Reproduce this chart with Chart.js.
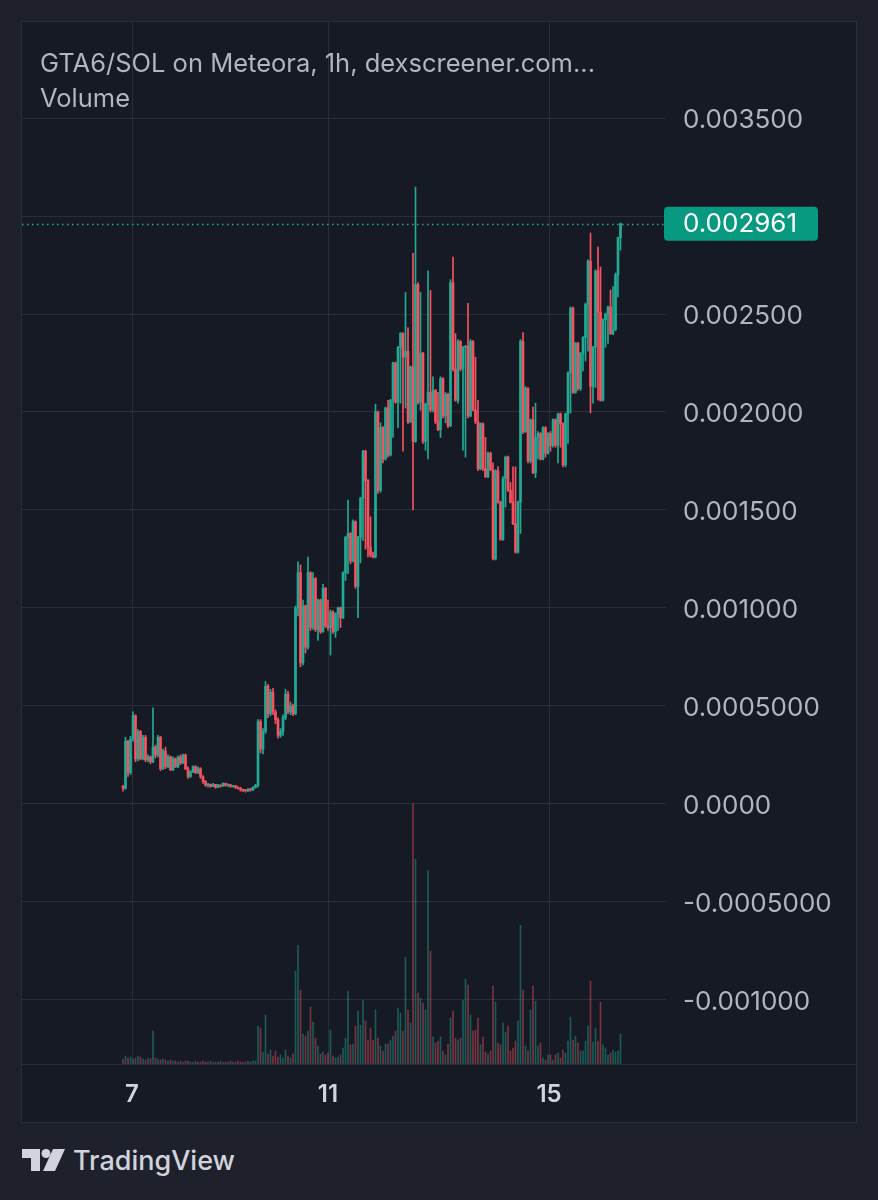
<!DOCTYPE html>
<html>
<head>
<meta charset="utf-8">
<script src="https://cdn.jsdelivr.net/npm/chart.js@4.4.1/dist/chart.umd.min.js"></script>
<style>
  html, body { margin: 0; padding: 0; background: #1e212b; }
  body { width: 878px; height: 1200px; position: relative; overflow: hidden; font-family: Inter, 'Noto Sans', sans-serif; }
  #panel { position: absolute; left: 21px; top: 21px; width: 836px; height: 1102px; box-sizing: border-box; border: 1px solid #2a2e39; background: #161a25; }
  #chart { position: absolute; left: 0; top: 0; }
  .legend { position: absolute; left: 18px; color: #b2b5be; font-size: 25.5px; line-height: 28px; white-space: nowrap; }
  #footer { position: absolute; left: 22px; top: 1146px; height: 28px; display: flex; align-items: center; color: #d1d4dc; font-size: 27px; font-weight: 500; }
  #footer svg { margin-right: 8px; }
</style>
</head>
<body>
<div id="panel">
  <canvas id="chart" width="834" height="1100"></canvas>
  <div class="legend" style="top:27px">GTA6/SOL on Meteora, 1h, dexscreener.com...</div>
  <div class="legend" style="top:62px">Volume</div>
</div>
<div id="footer">
  <svg width="43" height="22" viewBox="0 0 43 22"><path d="M0 0h18v22h-9v-13h-9z" fill="#d1d4dc"/><circle cx="24" cy="4.5" r="4.5" fill="#d1d4dc"/><path d="M31 0h12l-10 22h-12z" fill="#d1d4dc"/></svg>
  <span>TradingView</span>
</div>
<script>
// prices are in millionths of SOL, one candle per hour (open = previous close)
const firstOpen = 90;
const close = [
  80, 320, 160, 330, 450, 230, 370, 230, 340, 225,
  240, 215, 290, 250, 340, 180, 270, 190, 240, 175,
  230, 190, 240, 210, 250, 180, 140, 165, 190, 160,
  180, 140, 115, 95, 100, 90, 100, 85, 95, 92,
  105, 95, 98, 88, 92, 85, 80, 72, 70, 68,
  75, 72, 85, 95, 420, 280, 370, 600, 460, 570,
  470, 430, 350, 370, 440, 560, 470, 500, 460, 1000,
  1180, 720, 1010, 800, 1180, 900, 1150, 890, 1040, 880,
  1100, 910, 900, 980, 880, 970, 1000, 950, 1180, 1360,
  1380, 1240, 1440, 1110, 1360, 1560, 1800, 1650, 1310, 1270,
  1260, 2000, 1600, 1920, 1760, 2020, 1780, 2060, 2250, 2050,
  2330, 2400, 2280, 2310, 1950, 2230, 1850, 2650, 2050, 2300,
  1850, 2040, 2100, 2010, 2110, 1950, 1910, 2170, 1980, 2090,
  1930, 2660, 2220, 2060, 2360, 2220, 2330, 2334, 1980, 2360,
  2010, 1950, 1710, 1940, 1710, 1670, 1790, 1705, 1250, 1700,
  1540, 1350, 1660, 1770, 1600, 1540, 1430, 1285, 1540, 2360,
  1900, 2120, 1750, 1960, 1690, 1870, 1890, 1760, 1920, 1790,
  1890, 1830, 1960, 1830, 1990, 1940, 1730, 1990, 2200, 2530,
  2100, 2350, 2120, 2300, 2380, 2550, 2770, 2130, 2330, 2720,
  2510, 2060, 2470, 2500, 2536, 2400, 2420, 2700, 2890, 2961
];
const high = [
  95, 340, 325, 345, 470, 455, 380, 375, 350, 350,
  250, 245, 490, 300, 350, 345, 280, 290, 250, 245,
  240, 235, 245, 250, 255, 255, 190, 170, 195, 195,
  190, 185, 145, 120, 105, 102, 105, 100, 100, 97,
  108, 107, 102, 100, 95, 95, 88, 85, 75, 72,
  78, 80, 88, 100, 430, 430, 385, 625, 610, 585,
  590, 480, 440, 385, 455, 585, 575, 520, 510, 1010,
  1235, 1220, 1040, 1015, 1260, 1185, 1180, 1155, 1045, 1045,
  1120, 1105, 1040, 990, 985, 975, 1005, 1005, 1185, 1365,
  1550, 1385, 1450, 1445, 1365, 1565, 1805, 1805, 1655, 1465,
  1285, 2040, 2005, 1945, 1925, 2025, 2060, 2065, 2255, 2255,
  2335, 2405, 2405, 2610, 2430, 2235, 2810, 3148, 2660, 2610,
  2305, 2045, 2720, 2620, 2180, 2115, 2100, 2180, 2175, 2100,
  2095, 2675, 2790, 2400, 2370, 2365, 2335, 2340, 2555, 2370,
  2365, 2280, 2060, 1945, 1945, 1870, 1795, 1795, 1740, 1705,
  1720, 1545, 1670, 1775, 1775, 1640, 1720, 1720, 1545, 2370,
  2405, 2130, 2125, 1965, 2025, 2045, 1900, 1895, 1925, 1925,
  1895, 1900, 1965, 1965, 1995, 1995, 1945, 1995, 2205, 2536,
  2535, 2355, 2355, 2305, 2385, 2556, 2776, 2913, 2335, 2725,
  2842, 2740, 2475, 2505, 2540, 2622, 2640, 2709, 2893, 2964
];
const low = [
  65, 75, 140, 150, 320, 215, 220, 225, 225, 215,
  215, 205, 210, 235, 240, 170, 175, 180, 185, 170,
  170, 185, 185, 200, 205, 175, 130, 135, 160, 155,
  155, 130, 105, 90, 85, 85, 88, 80, 83, 85,
  90, 90, 90, 85, 85, 78, 75, 65, 62, 60,
  62, 65, 68, 80, 85, 260, 255, 360, 440, 450,
  455, 410, 335, 340, 350, 430, 460, 455, 450, 455,
  960, 700, 710, 770, 790, 885, 890, 880, 835, 870,
  875, 900, 885, 760, 870, 850, 885, 900, 945, 1140,
  1175, 1225, 1235, 1100, 950, 1230, 1345, 1300, 1260, 1260,
  1255, 1255, 1585, 1590, 1740, 1755, 1770, 1775, 1870, 2045,
  1920, 2045, 1800, 2020, 1940, 1945, 1500, 1845, 2040, 2010,
  1840, 1805, 1760, 2000, 2000, 1940, 1905, 1870, 1970, 1945,
  1920, 1925, 2210, 2055, 2045, 2210, 1805, 1770, 1970, 1975,
  2005, 1940, 1700, 1705, 1700, 1665, 1665, 1700, 1245, 1245,
  1535, 1345, 1345, 1515, 1595, 1535, 1425, 1280, 1280, 1380,
  1890, 1895, 1740, 1740, 1685, 1665, 1760, 1755, 1755, 1770,
  1785, 1800, 1820, 1820, 1740, 1820, 1720, 1720, 1840, 1995,
  2095, 2095, 2110, 2110, 2210, 2260, 2310, 1995, 2045, 2125,
  2060, 2055, 2055, 2330, 2350, 2395, 2395, 2415, 2587, 2826
];
const volume = [
  5, 8, 6, 7, 5, 6, 8, 7, 5, 4,
  6, 5, 33, 6, 5, 4, 5, 4, 3, 4,
  3, 3, 2, 3, 2, 3, 3, 2, 2, 3,
  2, 2, 3, 2, 2, 3, 2, 2, 2, 3,
  2, 2, 2, 3, 2, 2, 3, 2, 2, 2,
  3, 2, 3, 3, 38, 36, 12, 49, 10, 14,
  8, 13, 7, 9, 6, 14, 8, 6, 10, 93,
  119, 74, 30, 28, 33, 57, 42, 26, 18, 10,
  12, 9, 11, 34, 8, 6, 7, 9, 16, 26,
  73, 19, 20, 38, 53, 39, 64, 43, 24, 36,
  24, 54, 26, 18, 13, 20, 20, 24, 28, 33,
  56, 51, 33, 107, 54, 41, 261, 205, 71, 66,
  61, 54, 194, 113, 27, 21, 23, 27, 13, 9,
  20, 46, 53, 26, 24, 26, 64, 85, 79, 49,
  33, 34, 46, 19, 27, 12, 10, 13, 78, 62,
  21, 19, 41, 32, 38, 13, 16, 23, 43, 139,
  74, 18, 13, 54, 78, 63, 18, 21, 6, 4,
  9, 9, 4, 9, 11, 6, 14, 11, 23, 47,
  24, 28, 21, 13, 13, 23, 38, 83, 22, 36,
  23, 62, 19, 16, 9, 11, 14, 12, 13, 30
];
const dayTickIndex = [3.6, 82, 170.4];   // candle position where each day starts
const dayTickLabels = ['7', '11', '15'];
const priceTicks = [-1000, -500, 0, 500, 1000, 1500, 2000, 2500, 3000, 3500];
const priceTickLabels = ['-0.001000', '-0.0005000', '0.0000', '0.0005000', '0.001000',
  '0.001500', '0.002000', '0.002500', '', '0.003500'];

const UP = '#22ab94';
const DOWN = '#f7525f';

const open = close.map((c, i) => i === 0 ? firstOpen : close[i - 1]);
const isUp = close.map((c, i) => c >= open[i]);
const candleColors = isUp.map(u => u ? UP : DOWN);
const volColors = isUp.map(u => u ? 'rgba(34,171,148,0.45)' : 'rgba(247,82,95,0.45)');
const lastPrice = close[close.length - 1];

const lastPricePlugin = {
    id: 'lastPrice',
    beforeDatasetsDraw(chart) {
        const { ctx, chartArea, scales } = chart;
        const y = Math.round(scales.y.getPixelForValue(lastPrice)) + 0.5;
        ctx.save();
        ctx.strokeStyle = UP;
        ctx.lineWidth = 1.5;
        ctx.setLineDash([1.5, 3.5]);
        ctx.beginPath();
        ctx.moveTo(chartArea.left, y);
        ctx.lineTo(chartArea.right, y);
        ctx.stroke();
        ctx.restore();
    },
    afterDraw(chart) {
        const { ctx, chartArea, scales, width } = chart;
        ctx.save();
        // line between the plot and the time scale
        ctx.strokeStyle = '#2a2e39';
        ctx.lineWidth = 1;
        ctx.beginPath();
        ctx.moveTo(0, chartArea.bottom + 0.5);
        ctx.lineTo(width, chartArea.bottom + 0.5);
        ctx.stroke();
        // last price tag
        const y = scales.y.getPixelForValue(lastPrice);
        ctx.fillStyle = '#089981';
        ctx.beginPath();
        ctx.roundRect(chartArea.right - 2, y - 17, 154, 34, 4);
        ctx.fill();
        ctx.fillStyle = '#ffffff';
        ctx.font = '26px Inter';
        ctx.textBaseline = 'middle';
        ctx.textAlign = 'left';
        ctx.fillText((lastPrice / 1e6).toFixed(6), chartArea.right + 17, y + 1);
        ctx.restore();
    }
};

const ctx = document.getElementById('chart').getContext('2d');
new Chart(ctx, {
    type: 'bar',
    data: {
        datasets: [{
            label: 'body',
            data: close.map((c, i) => ({ x: i, y: [Math.min(open[i], c), Math.max(open[i], c)] })),
            backgroundColor: candleColors,
            barThickness: 2,
            minBarLength: 1,
            grouped: false,
            yAxisID: 'y',
            order: 0
        }, {
            label: 'wick',
            data: close.map((c, i) => ({ x: i, y: [low[i], high[i]] })),
            backgroundColor: candleColors,
            barThickness: 1,
            grouped: false,
            yAxisID: 'y',
            order: 1
        }, {
            label: 'volume',
            data: volume.map((v, i) => ({ x: i, y: v })),
            backgroundColor: volColors,
            barThickness: 1,
            grouped: false,
            yAxisID: 'yv',
            order: 2
        }]
    },
    options: {
        responsive: false,
        animation: false,
        layout: { padding: 0 },
        plugins: {
            legend: { display: false },
            tooltip: { enabled: false }
        },
        scales: {
            x: {
                type: 'linear',
                min: -40.4,
                max: 217.2,
                offset: false,
                afterBuildTicks: s => { s.ticks = dayTickIndex.map(v => ({ value: v })); },
                afterFit: s => { s.height = 58; s.paddingLeft = 0; s.paddingRight = 0; },
                grid: { color: '#2a2e39', drawTicks: false, offset: false },
                border: { display: false },
                ticks: {
                    color: '#d1d4dc',
                    font: { family: 'Inter', size: 24, weight: '600' },
                    padding: 16,
                    maxRotation: 0,
                    autoSkip: false,
                    callback: (v, i) => dayTickLabels[i]
                }
            },
            y: {
                position: 'right',
                min: -1327,
                max: 3990,
                afterBuildTicks: s => { s.ticks = priceTicks.map(v => ({ value: v })); },
                afterFit: s => { s.width = 190; s.paddingTop = 0; s.paddingBottom = 0; },
                grid: { color: '#2a2e39', drawTicks: false },
                border: { display: false },
                ticks: {
                    color: '#b2b5be',
                    font: { family: 'Inter', size: 26 },
                    padding: 17,
                    labelOffset: 2,
                    autoSkip: false,
                    callback: (v, i) => priceTickLabels[i]
                }
            },
            yv: {
                display: false,
                min: 0,
                max: Math.max(...volume) * 4.0
            }
        }
    },
    plugins: [lastPricePlugin]
});
</script>
</body>
</html>
